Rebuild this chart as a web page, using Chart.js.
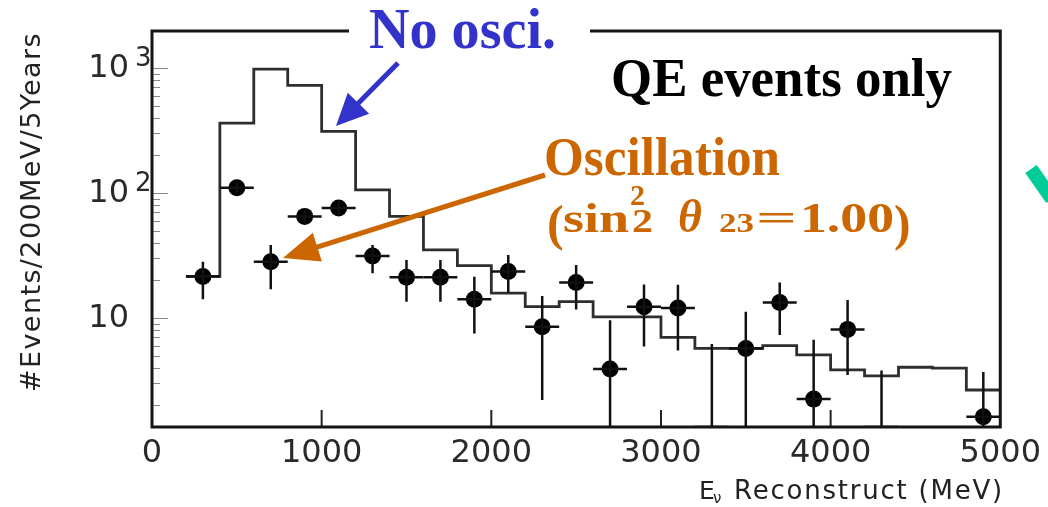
<!DOCTYPE html>
<html>
<head>
<meta charset="utf-8">
<script src="https://cdn.jsdelivr.net/npm/chart.js@4/dist/chart.umd.min.js"></script>
<style>
  html, body { margin: 0; padding: 0; background: #fff; }
  #wrap { width: 1048px; height: 507px; position: relative; }
</style>
</head>
<body>
<div id="wrap"><canvas id="c" width="1048" height="507"></canvas></div>
<script>
// Expected QE spectrum without oscillation: 200 MeV bins, left bin edges (MeV)
const binEdges = [0, 200, 400, 600, 800, 1000, 1200, 1400, 1600, 1800, 2000, 2200, 2400,
                  2600, 2800, 3000, 3200, 3400, 3600, 3800, 4000, 4200, 4400, 4600, 4800];
const binEnd = 5000;
const noOscCounts = [0, 21.5, 363, 980, 727, 311, 106, 65, 35, 26.2, 15.8, 12.3, 13.5,
                     10.2, 10.2, 7.0, 5.7, 5.7, 6.0, 5.06, 3.84, 3.44, 4.03, 3.96, 2.65];

// Oscillated spectrum (sin^2 2θ23 = 1.00): bin centres, counts and error-bar bounds
const oscEnergy = [300, 500, 700, 900, 1100, 1300, 1500, 1700, 1900, 2100, 2300, 2500,
                   2700, 2900, 3100, 3300, 3500, 3700, 3900, 4100, 4300, 4900];
const oscCounts = [21.5, 110, 28.2, 65, 76, 31.3, 21.2, 21.2, 14.1, 23.5, 8.5, 19.2,
                   3.9, 12.3, 12.0, 0, 5.7, 13.3, 2.24, 8.1, 0, 1.62];
const oscLow    = [14.1, 101, 17, 57, 67, 22.8, 13.5, 13.5, 7.5, 15.8, 2.2, 11.7,
                   1, 5.9, 5.5, 0, 1, 7.3, 1, 3.5, 0, 1];
const oscHigh   = [28.2, 120, 38.4, 73, 87, 38.4, 29.1, 29.1, 21.4, 31.9, 15, 26.5,
                   9.6, 18.5, 18.4, 6.2, 11.2, 19.2, 6.7, 13.9, 3.8, 3.7];
const halfBinWidth = 100;

// Axes
const xTicks = [0, 1000, 2000, 3000, 4000, 5000];
const yMin = 1.34, yMax = 1980;
const yLabelValues = [10, 100, 1000];
const yLabelExponents = ['', '2', '3'];

const histPoints = binEdges.map((e, i) => ({ x: e, y: noOscCounts[i] }));
histPoints.push({ x: binEnd, y: noOscCounts[noOscCounts.length - 1] });
const oscPoints = oscEnergy.map((e, i) => ({ x: e, y: oscCounts[i] }));

function fitText(ctx, text, font, x0, x1, baseline, color) {
  ctx.save();
  ctx.font = font;
  ctx.fillStyle = color;
  ctx.textAlign = 'left';
  ctx.textBaseline = 'alphabetic';
  const w = ctx.measureText(text).width;
  ctx.translate(x0, baseline);
  ctx.scale((x1 - x0) / w, 1);
  ctx.fillText(text, 0, 0);
  ctx.restore();
}

function spacedText(ctx, text, font, x0, x1, baseline, color) {
  ctx.save();
  ctx.font = font;
  ctx.fillStyle = color;
  ctx.textAlign = 'left';
  ctx.textBaseline = 'alphabetic';
  const w = ctx.measureText(text).width;
  if ('letterSpacing' in ctx) {
    ctx.letterSpacing = ((x1 - x0 - w) / text.length) + 'px';
    ctx.fillText(text, x0, baseline);
  } else {
    ctx.translate(x0, baseline);
    ctx.scale((x1 - x0) / w, 1);
    ctx.fillText(text, 0, 0);
  }
  ctx.restore();
}

function plainText(ctx, text, font, x, baseline, color, align) {
  ctx.save();
  ctx.font = font;
  ctx.fillStyle = color;
  ctx.textAlign = align || 'left';
  ctx.textBaseline = 'alphabetic';
  ctx.fillText(text, x, baseline);
  ctx.restore();
}

function arrow(ctx, x0, y0, x1, y1, shaft, headLen, headHalf, color) {
  const dx = x1 - x0, dy = y1 - y0;
  const L = Math.hypot(dx, dy);
  const ux = dx / L, uy = dy / L;
  const bx = x1 - ux * headLen, by = y1 - uy * headLen;
  ctx.save();
  ctx.strokeStyle = color;
  ctx.fillStyle = color;
  ctx.lineWidth = shaft;
  ctx.lineCap = 'butt';
  ctx.beginPath();
  ctx.moveTo(x0, y0);
  ctx.lineTo(bx + ux * 2, by + uy * 2);
  ctx.stroke();
  ctx.beginPath();
  ctx.moveTo(x1, y1);
  ctx.lineTo(bx - uy * headHalf, by + ux * headHalf);
  ctx.lineTo(bx + uy * headHalf, by - ux * headHalf);
  ctx.closePath();
  ctx.fill();
  ctx.restore();
}

const decor = {
  id: 'decor',
  afterDatasetsDraw(chart) {
    const { ctx, chartArea: ca, scales: { x, y } } = chart;
    ctx.save();
    ctx.beginPath();
    ctx.rect(ca.left, ca.top, ca.right - ca.left, ca.bottom - ca.top);
    ctx.clip();
    ctx.strokeStyle = '#111';
    ctx.lineWidth = 2.5;
    oscEnergy.forEach((e, i) => {
      const px = x.getPixelForValue(e);
      const py = y.getPixelForValue(oscCounts[i]);
      const lo = oscLow[i] < yMin ? ca.bottom + 5 : y.getPixelForValue(oscLow[i]);
      const hi = y.getPixelForValue(oscHigh[i]);
      ctx.beginPath();
      ctx.moveTo(px, lo);
      ctx.lineTo(px, hi);
      ctx.moveTo(x.getPixelForValue(e - halfBinWidth), py);
      ctx.lineTo(x.getPixelForValue(e + halfBinWidth), py);
      ctx.stroke();
    });
    ctx.restore();
  },
  afterDraw(chart) {
    const { ctx, chartArea: ca, scales: { x, y } } = chart;
    ctx.save();

    // inward log ticks on the left axis
    ctx.strokeStyle = '#888';
    ctx.lineWidth = 1;
    for (let d = 1; d <= 1000; d *= 10) {
      for (let m = 1; m <= 9; m++) {
        const v = m * d;
        if (v < yMin || v > yMax) continue;
        const py = Math.round(y.getPixelForValue(v)) + 0.5;
        ctx.beginPath();
        ctx.moveTo(ca.left, py);
        ctx.lineTo(ca.left + (m === 1 ? 16 : 8), py);
        ctx.stroke();
      }
    }
    // inward major ticks on the energy axis
    ctx.strokeStyle = '#222';
    ctx.lineWidth = 2;
    xTicks.forEach(t => {
      if (t <= 0 || t >= 5000) return;
      const px = x.getPixelForValue(t);
      ctx.beginPath();
      ctx.moveTo(px, ca.bottom);
      ctx.lineTo(px, ca.bottom - 17);
      ctx.stroke();
    });

    // frame
    ctx.strokeStyle = '#151515';
    ctx.lineWidth = 3;
    ctx.beginPath();
    ctx.moveTo(ca.left, ca.top);
    ctx.lineTo(ca.right, ca.top);
    ctx.lineTo(ca.right, ca.bottom);
    ctx.lineTo(ca.left, ca.bottom);
    ctx.closePath();
    ctx.stroke();

    // y tick labels 10, 10^2, 10^3
    yLabelValues.forEach((v, i) => {
      const py = y.getPixelForValue(v);
      ctx.fillStyle = '#2a2a2a';
      ctx.font = '32px "DejaVu Sans"';
      ctx.textAlign = 'right';
      ctx.textBaseline = 'middle';
      ctx.fillText('10', 129, py + 1);
      if (yLabelExponents[i]) {
        ctx.font = '26px "DejaVu Sans"';
        ctx.textAlign = 'left';
        ctx.textBaseline = 'alphabetic';
        ctx.fillText(yLabelExponents[i], 135, py - 2);
      }
    });

    // axis titles
    ctx.save();
    ctx.translate(40, 212);
    ctx.rotate(-Math.PI / 2);
    spacedText(ctx, '#Events/200MeV/5Years', '27px "DejaVu Sans"', -180, 180, 0, '#222');
    ctx.restore();
    plainText(ctx, 'E', '25px "DejaVu Sans"', 699, 499, '#222');
    plainText(ctx, '\u03bd', '15px "DejaVu Sans"', 713, 503, '#222');
    spacedText(ctx, 'Reconstruct (MeV)', '26px "DejaVu Sans"', 734, 1004, 499, '#222');

    // annotations
    ctx.fillStyle = '#fff';
    ctx.fillRect(349, 22, 241, 16);
    fitText(ctx, 'No osci.', 'bold 56px "Liberation Serif"', 369, 556, 48, '#3333cc');
    arrow(ctx, 398, 63, 336, 126, 5, 32, 15, '#3333cc');

    fitText(ctx, 'QE events only', 'bold 54px "Liberation Serif"', 611, 952, 96, '#000');

    const orange = '#cc6600';
    fitText(ctx, 'Oscillation', 'bold 54px "Liberation Serif"', 544, 780, 175, orange);
    plainText(ctx, '(', 'bold 50px "Liberation Serif"', 547, 240, orange);
    fitText(ctx, 'sin', 'bold 42px "Liberation Serif"', 563, 629, 232, orange);
    plainText(ctx, '2', 'bold 30px "Liberation Serif"', 630, 205, orange);
    fitText(ctx, '2', 'bold 34px "Liberation Serif"', 632, 653, 232, orange);
    plainText(ctx, '\u03b8', 'bold italic 46px "Liberation Serif"', 690, 232, orange, 'center');
    fitText(ctx, '23', 'bold 27px "Liberation Serif"', 719, 754, 232, orange);
    fitText(ctx, '=', 'bold 36px "Liberation Serif"', 756, 797, 230, orange);
    fitText(ctx, '1.00', 'bold 42px "Liberation Serif"', 800, 894, 232, orange);
    plainText(ctx, ')', 'bold 50px "Liberation Serif"', 894, 240, orange);
    arrow(ctx, 545, 175, 283, 258, 5, 36, 15, orange);

    // partial teal mark at the right margin
    ctx.strokeStyle = '#00cc99';
    ctx.lineWidth = 14;
    ctx.lineCap = 'butt';
    ctx.beginPath();
    ctx.moveTo(1031, 169);
    ctx.lineTo(1052, 199);
    ctx.stroke();
    ctx.restore();
  }
};

new Chart(document.getElementById('c'), {
  data: {
    datasets: [
      {
        type: 'scatter',
        data: oscPoints,
        backgroundColor: '#000',
        borderColor: '#000',
        pointRadius: c => (c.raw && c.raw.y > 0 ? 8.5 : 0),
        pointHoverRadius: 0,
        borderWidth: 0
      },
      {
        type: 'line',
        data: histPoints,
        stepped: 'before',
        borderColor: '#2e2e2e',
        borderWidth: 2.8,
        pointRadius: 0,
        fill: false
      }
    ]
  },
  options: {
    responsive: false,
    animation: false,
    events: [],
    layout: { padding: { left: 0, right: 45, top: 31, bottom: 0 } },
    plugins: { legend: { display: false }, tooltip: { enabled: false } },
    scales: {
      x: {
        type: 'linear',
        min: 0,
        max: 5000,
        afterFit: s => { s.height = 80; },
        afterBuildTicks: s => { s.ticks = xTicks.map(v => ({ value: v })); },
        grid: { display: false, drawTicks: false },
        border: { display: false },
        ticks: {
          autoSkip: false,
          maxRotation: 0,
          padding: 7,
          color: '#2a2a2a',
          font: { family: 'DejaVu Sans', size: 32 },
          callback: v => String(v)
        }
      },
      y: {
        type: 'logarithmic',
        min: yMin,
        max: yMax,
        afterFit: s => { s.width = 152; },
        grid: { display: false, drawTicks: false },
        border: { display: false },
        ticks: { display: false }
      }
    }
  },
  plugins: [decor]
});
</script>
</body>
</html>
